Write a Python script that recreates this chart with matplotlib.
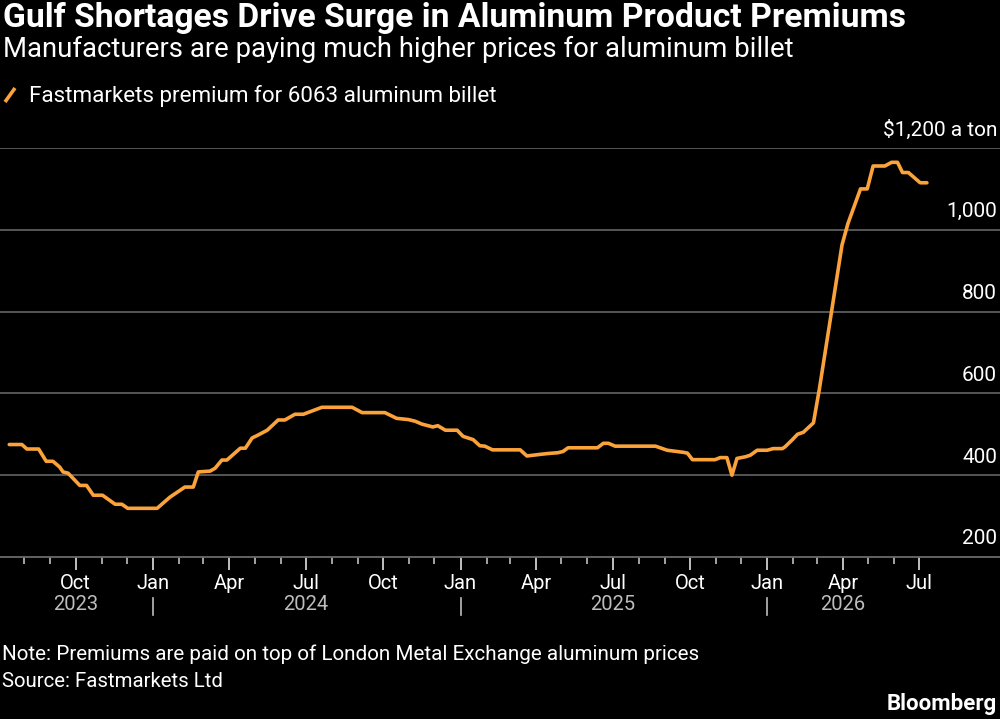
import matplotlib
matplotlib.use('Agg')
import matplotlib.pyplot as plt
import matplotlib.transforms as mtransforms
import pandas as pd

# ---------------- data ----------------
dates = [
    '2023-07-14', '2023-07-29', '2023-08-04', '2023-08-18', '2023-08-27', '2023-09-04',
    '2023-09-12', '2023-09-16', '2023-09-22', '2023-10-06', '2023-10-14', '2023-10-22',
    '2023-11-02', '2023-11-17', '2023-11-25', '2023-12-02', '2024-01-06', '2024-01-21',
    '2024-02-08', '2024-02-18', '2024-02-24', '2024-03-09', '2024-03-15', '2024-03-23',
    '2024-03-29', '2024-04-14', '2024-04-20', '2024-04-28', '2024-05-05', '2024-05-16',
    '2024-05-29', '2024-06-06', '2024-06-18', '2024-06-28', '2024-07-20', '2024-08-25',
    '2024-09-06', '2024-10-03', '2024-10-17', '2024-10-31', '2024-11-08', '2024-11-16',
    '2024-11-29', '2024-12-05', '2024-12-14', '2024-12-28', '2025-01-04', '2025-01-16',
    '2025-01-24', '2025-01-30', '2025-02-08', '2025-03-13', '2025-03-21', '2025-04-06',
    '2025-04-15', '2025-04-27', '2025-05-03', '2025-05-09', '2025-06-13', '2025-06-20',
    '2025-06-26', '2025-07-04', '2025-08-21', '2025-09-04', '2025-09-23', '2025-09-28',
    '2025-10-04', '2025-10-31', '2025-11-06', '2025-11-14', '2025-11-20', '2025-11-26',
    '2025-12-06', '2025-12-12', '2025-12-20', '2026-01-01', '2026-01-08', '2026-01-19',
    '2026-01-22', '2026-01-31', '2026-02-06', '2026-02-13', '2026-02-25', '2026-03-04',
    '2026-03-31', '2026-04-07', '2026-04-22', '2026-04-30', '2026-05-07', '2026-05-21',
    '2026-05-29', '2026-06-05', '2026-06-11', '2026-06-18', '2026-07-02', '2026-07-10',
]
premium = [
    475, 475, 464, 464, 434, 434,
    420, 408, 405, 375, 375, 351,
    351, 329, 329, 319, 319, 346,
    371, 371, 408, 410, 417, 437,
    437, 466, 466, 491, 498, 510,
    535, 535, 549, 549, 566, 566,
    553, 553, 539, 536, 532, 525,
    518, 521, 510, 510, 495, 487,
    472, 471, 462, 462, 447, 451,
    453, 455, 458, 467, 467, 478,
    478, 471, 471, 461, 456, 454,
    438, 438, 443, 443, 400, 441,
    445, 449, 461, 461, 465, 465,
    469, 487, 500, 505, 528, 610,
    963, 1015, 1100, 1100, 1156, 1156,
    1165, 1165, 1140, 1140, 1115, 1115,
]

y_ticks = [200, 400, 600, 800, 1000, 1200]
y_tick_labels = ['200', '400', '600', '800', '1,000', '$1,200 a ton']
month_names = {1: 'Jan', 4: 'Apr', 7: 'Jul', 10: 'Oct'}
year_labels = ['2023', '2024', '2025', '2026']
year_label_dates = ['2023-10-01', '2024-07-01', '2025-07-01', '2026-04-01']
year_sep_dates = ['2024-01-01', '2025-01-01', '2026-01-01']

title = 'Gulf Shortages Drive Surge in Aluminum Product Premiums'
subtitle = 'Manufacturers are paying much higher prices for aluminum billet'
legend_label = 'Fastmarkets premium for 6063 aluminum billet'
note = 'Note: Premiums are paid on top of London Metal Exchange aluminum prices'
source = 'Source: Fastmarkets Ltd'

ORANGE = '#FBA23A'
GRID = '#5c5c5c'
FONT = ['Roboto', 'DejaVu Sans']

W, H = 1000, 719
fig = plt.figure(figsize=(W / 100, H / 100), dpi=100, facecolor='black')
renderer = fig.canvas.get_renderer()

def fy(py):
    return 1 - py / H

def fit(t, target_w):
    bb = t.get_window_extent(renderer=renderer)
    t.set_fontsize(t.get_fontsize() * target_w / bb.width)

ax_bottom, ax_top = 557, 148
ax = fig.add_axes([0, fy(ax_bottom), 1.0, (ax_bottom - ax_top) / H])
ax.set_facecolor('black')

x = pd.to_datetime(dates)
ax.plot(x, premium, color=ORANGE, lw=2.6, solid_joinstyle='round',
        solid_capstyle='round', zorder=3)
ax.set_xlim(pd.Timestamp('2023-07-03'), pd.Timestamp('2026-10-05'))
ax.set_ylim(200, 1200)

for v in y_ticks[1:]:
    ax.axhline(v, color=GRID, lw=1.3, zorder=1)

for s in ['top', 'right', 'left']:
    ax.spines[s].set_visible(False)
ax.spines['bottom'].set_color('#6a6a6a')
ax.spines['bottom'].set_linewidth(1.3)
ax.set_yticks([])

major = pd.date_range('2023-10-01', '2026-07-01', freq='QS')
minor = pd.date_range('2023-08-01', '2026-06-01', freq='MS')
minor = [m for m in minor if m.month not in (1, 4, 7, 10)]
ax.set_xticks(major)
ax.set_xticklabels([month_names[d.month] for d in major])
ax.set_xticks(minor, minor=True)
ax.tick_params(axis='x', which='major', length=9, width=1.3, color='#cfcfcf',
               labelcolor='white', labelsize=14.5, pad=3)
ax.tick_params(axis='x', which='minor', length=5, width=1.1, color='#cfcfcf')
for lab in ax.get_xticklabels():
    lab.set_family(FONT)

xt = mtransforms.blended_transform_factory(ax.transData, fig.transFigure)
for lab, d in zip(year_labels, year_label_dates):
    ax.text(pd.Timestamp(d), fy(605), lab, transform=xt, ha='center', va='center',
            color='#bdbdbd', fontsize=14.5, family=FONT)
for d in year_sep_dates:
    ax.plot([pd.Timestamp(d)] * 2, [fy(598), fy(615)], transform=xt,
            color='#bdbdbd', lw=1.2, clip_on=False)

yt = mtransforms.blended_transform_factory(fig.transFigure, ax.transData)
yt_off = mtransforms.offset_copy(yt, fig=fig, x=0, y=18, units='dots')
for v, lab in zip(y_ticks, y_tick_labels):
    ax.text(0.997, v, lab, transform=yt_off, ha='right', va='center',
            color='white', fontsize=15, family=FONT)

t = fig.text(0.003, fy(27), title, color='white', fontsize=20, fontweight='bold',
             family=FONT, va='baseline', ha='left')
fit(t, 899)
t = fig.text(0.003, fy(57), subtitle, color='white', fontsize=18,
             family=FONT, va='baseline', ha='left')
fit(t, 790)

fig.lines.append(plt.Line2D([0.005, 0.015], [fy(102), fy(88)], transform=fig.transFigure,
                            color=ORANGE, lw=2.6, solid_capstyle='butt'))
t = fig.text(0.029, fy(102), legend_label, color='white', fontsize=14,
             family=FONT, va='baseline', ha='left')
fit(t, 471)

t = fig.text(0.002, fy(660), note, color='white', fontsize=14,
             family=FONT, va='baseline', ha='left')
fit(t, 701)
t = fig.text(0.002, fy(687), source, color='white', fontsize=14,
             family=FONT, va='baseline', ha='left')
fit(t, 223)
t = fig.text(0.997, fy(710), 'Bloomberg', color='white', fontsize=13,
             fontweight='bold', family=FONT, va='baseline', ha='right')
fit(t, 110)

fig.savefig('out.png', dpi=100, facecolor='black')
